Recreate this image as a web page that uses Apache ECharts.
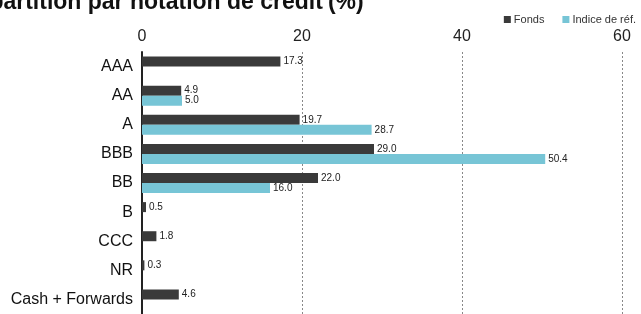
<!DOCTYPE html>
<html>
<head>
<meta charset="utf-8">
<script src="https://cdn.jsdelivr.net/npm/echarts@6/dist/echarts.min.js"></script>
<style>
  html, body { margin: 0; padding: 0; background: #fff; }
  #chart { width: 641px; height: 314px; }
</style>
</head>
<body>
<div id="chart"></div>
<script>
// données
const categories = ["AAA", "AA", "A", "BBB", "BB", "B", "CCC", "NR", "Cash + Forwards"];
const fonds = [17.3, 4.9, 19.7, 29.0, 22.0, 0.5, 1.8, 0.3, 4.6];
const indice = [null, 5.0, 28.7, 50.4, 16.0, null, null, null, null];
const seriesNames = ["Fonds", "Indice de réf."];

const chart = echarts.init(document.getElementById("chart"));

const labelStyle = {
  show: true,
  position: "right",
  distance: 3,
  fontSize: 10,
  color: "#222",
  fontFamily: "Liberation Sans, Arial, sans-serif",
  formatter: (p) => (p.value == null ? "" : p.value.toFixed(1)),
};

chart.setOption({
  animation: false,
  textStyle: { fontFamily: "Liberation Sans, Arial, sans-serif" },
  title: {
    text: "{b|Répartition par notation de crédit} {n|(%)}",
    left: -40,
    top: -9,
    padding: 0,
    textStyle: {
      rich: {
        b: { fontSize: 23, fontWeight: "bold", color: "#111" },
        n: { fontSize: 23, color: "#111" },
      },
    },
  },
  legend: {
    data: seriesNames,
    right: 0,
    top: 9,
    itemWidth: 7,
    itemHeight: 7,
    itemGap: 18,
    icon: "rect",
    textStyle: { fontSize: 11, color: "#333", padding: [0, 0, 0, -2] },
  },
  grid: { left: 142, right: 19, top: 52, bottom: -4 },
  xAxis: {
    type: "value",
    position: "top",
    min: 0,
    max: 60,
    interval: 20,
    axisLine: { show: false },
    axisTick: { show: false },
    axisLabel: { fontSize: 16, color: "#222", margin: 7 },
    splitLine: {
      show: true,
      lineStyle: { color: "#888", type: [2, 2], width: 1 },
    },
  },
  yAxis: {
    type: "category",
    data: categories,
    inverse: true,
    axisLine: { show: true, lineStyle: { color: "#222", width: 2 } },
    axisTick: { show: false },
    axisLabel: { fontSize: 16, color: "#111", margin: 9 },
  },
  series: [
    {
      name: seriesNames[0],
      type: "bar",
      data: fonds,
      barWidth: 10,
      barGap: "0%",
      itemStyle: { color: "#3a3a3a" },
      label: labelStyle,
    },
    {
      name: seriesNames[1],
      type: "bar",
      data: indice,
      barWidth: 10,
      barGap: "0%",
      itemStyle: { color: "#77c5d6" },
      label: labelStyle,
    },
  ],
});
</script>
</body>
</html>
